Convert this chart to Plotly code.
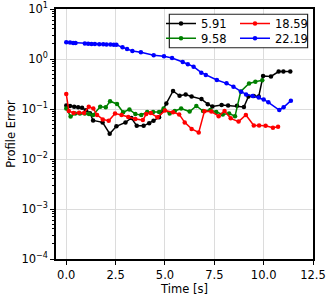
import plotly.graph_objects as go

# ---- data ----
t_591 = [0, 0.19, 0.4, 0.6, 0.8, 1.0, 1.2, 1.36, 1.84, 2.2, 2.54, 3.0, 3.3, 3.57, 3.92, 4.2, 4.42, 4.7,
         5.07, 5.41, 5.74, 6.05, 6.35, 6.85, 7.17, 7.4, 7.87, 8.2, 8.65, 9.0, 9.23, 9.5, 9.75, 9.97,
         10.37, 10.76, 11.0, 11.35]
e_591 = [0.117, 0.115, 0.111, 0.108, 0.106, 0.094, 0.082, 0.059, 0.054, 0.032, 0.045, 0.054, 0.066,
         0.046, 0.046, 0.052, 0.058, 0.068, 0.129, 0.229, 0.184, 0.195, 0.178, 0.158, 0.125, 0.112,
         0.120, 0.117, 0.116, 0.110, 0.178, 0.182, 0.178, 0.457, 0.447, 0.562, 0.562, 0.562]

t_958 = [0, 0.22, 0.45, 0.69, 0.94, 1.15, 1.36, 1.72, 2.0, 2.22, 2.57, 2.88, 3.2, 3.5, 3.8, 4.1, 4.4,
         4.7, 4.93, 5.24, 5.5, 5.82, 6.25, 6.59, 6.93, 7.3, 7.6, 7.93, 8.25, 8.55, 8.84, 9.26, 9.58, 9.93]
e_958 = [0.102, 0.071, 0.081, 0.081, 0.081, 0.079, 0.076, 0.111, 0.108, 0.143, 0.126, 0.086, 0.098,
         0.079, 0.076, 0.087, 0.087, 0.087, 0.102, 0.081, 0.091, 0.102, 0.089, 0.115, 0.091, 0.095,
         0.087, 0.078, 0.081, 0.072, 0.224, 0.324, 0.351, 0.376]

t_1859 = [0, 0.13, 0.37, 0.65, 0.9, 1.14, 1.37, 1.56, 1.85, 2.15, 2.47, 2.8, 3.14, 3.5, 3.88, 4.05,
          4.28, 4.62, 5.0, 5.41, 5.72, 6.0, 6.35, 6.71, 7.0, 7.35, 7.72, 8.02, 8.33, 8.73, 9.1, 9.5,
          9.77, 10.1, 10.47, 10.73]
e_1859 = [0.200, 0.091, 0.083, 0.084, 0.083, 0.111, 0.102, 0.076, 0.062, 0.058, 0.081, 0.076, 0.069,
          0.063, 0.060, 0.079, 0.083, 0.068, 0.093, 0.086, 0.078, 0.054, 0.040, 0.034, 0.090, 0.089,
          0.072, 0.091, 0.065, 0.056, 0.076, 0.047, 0.047, 0.046, 0.042, 0.044]

t_2219 = [0, 0.19, 0.35, 0.47, 0.94, 1.11, 1.28, 1.45, 1.67, 1.87, 2.04, 2.24, 2.41, 2.54, 2.85, 3.08,
          3.35, 3.78, 4.43, 4.95, 5.36, 5.9, 6.16, 6.45, 6.84, 7.07, 7.63, 8.12, 8.47, 8.86, 9.11,
          9.44, 9.75, 10.0, 10.24, 10.79, 11.01, 11.38]
e_2219 = [2.16, 2.14, 2.09, 2.09, 2.04, 2.02, 2.0, 2.0, 1.97, 1.97, 1.95, 1.95, 1.93, 1.93, 1.71, 1.58,
          1.45, 1.36, 1.19, 1.13, 1.05, 0.871, 0.783, 0.703, 0.532, 0.479, 0.380, 0.326, 0.280, 0.222,
          0.196, 0.182, 0.169, 0.155, 0.136, 0.0955, 0.108, 0.147]

series = [
    ("5.91", t_591, e_591, "black", "legend"),
    ("9.58", t_958, e_958, "green", "legend2"),
    ("18.59", t_1859, e_1859, "red", "legend3"),
    ("22.19", t_2219, e_2219, "blue", "legend4"),
]

x_ticks = [0, 2.5, 5, 7.5, 10, 12.5]
y_ticks = [1e-4, 1e-3, 1e-2, 1e-1, 1, 10]
y_ticktext = ["10<sup>\u22124</sup>", "10<sup>\u22123</sup>", "10<sup>\u22122</sup>",
              "10<sup>\u22121</sup>", "10<sup>0</sup>", "10<sup>1</sup>"]

FONT = "DejaVu Sans"

fig = go.Figure()
for name, t, e, col, leg in series:
    fig.add_trace(go.Scatter(
        x=t, y=e, mode="lines+markers", name=name, legend=leg,
        line=dict(color=col, width=1.5),
        marker=dict(color=col, size=4.5, symbol="circle"),
    ))

axis_common = dict(
    showline=True, linecolor="black", linewidth=1.5, mirror=True,
    ticks="outside", ticklen=4, tickwidth=1.2, tickcolor="black",
    showgrid=True, gridcolor="#dcdcdc", gridwidth=1, zeroline=False,
    tickfont=dict(family=FONT, size=11.5, color="black"),
    automargin=False,
)

fig.update_xaxes(
    range=[-0.52, 12.5], tickvals=x_ticks, ticktext=[f"{v:.1f}" for v in x_ticks],
    title=dict(text="Time [s]", font=dict(family=FONT, size=11.5, color="black"), standoff=1),
    **axis_common,
)
fig.update_yaxes(
    type="log", range=[-4, 1], tickvals=y_ticks, ticktext=y_ticktext,
    title=dict(text="Profile Error", font=dict(family=FONT, size=11.5, color="black"), standoff=3),
    minor=dict(ticks="outside", ticklen=2, tickcolor="black", tickwidth=1, showgrid=False, dtick="D1"),
    **axis_common,
)

leg_common = dict(
    orientation="v", yanchor="top", xanchor="left",
    bgcolor="rgba(0,0,0,0)", borderwidth=0,
    font=dict(family=FONT, size=11.5, color="black"),
    itemwidth=30, tracegroupgap=0,
)

fig.add_shape(
    type="rect", xref="paper", yref="paper",
    x0=0.441, x1=0.979, y0=0.845, y1=0.979,
    line=dict(color="#222222", width=1.2), fillcolor="white", layer="above",
)

row1, row2 = 1.0, 0.9412
col1, col2 = 0.4086, 0.6965
fig.update_layout(
    width=332, height=299,
    margin=dict(l=56, r=19, t=9, b=40),
    plot_bgcolor="white", paper_bgcolor="white",
    font=dict(family=FONT, size=11.5, color="black"),
    legend=dict(x=col1, y=row1, **leg_common),
    legend2=dict(x=col1, y=row2, **leg_common),
    legend3=dict(x=col2, y=row1, **leg_common),
    legend4=dict(x=col2, y=row2, **leg_common),
    showlegend=True,
)

fig.write_html("out.html", config={"displayModeBar": False},
               post_script="document.body.style.margin='0';")
